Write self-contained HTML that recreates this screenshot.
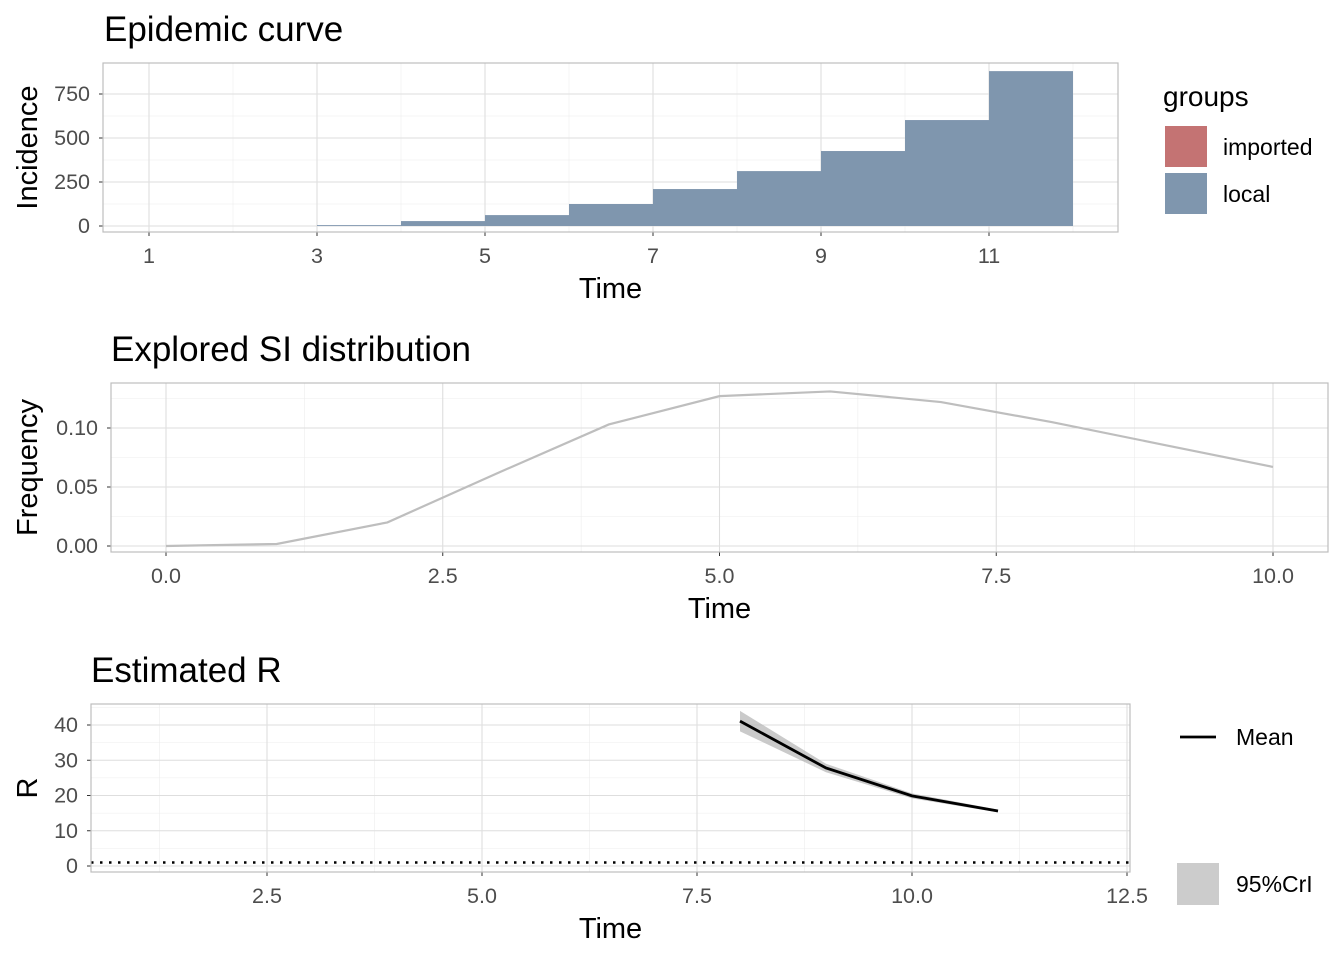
<!DOCTYPE html>
<html><head><meta charset="utf-8"><style>
html,body{margin:0;padding:0;background:#fff}
svg{display:block;font-family:"Liberation Sans",Arial,sans-serif}
</style></head><body>
<svg id="c" width="1344" height="960" viewBox="0 0 1344 960" xmlns="http://www.w3.org/2000/svg"></svg>
<script>
// ---- data ----
const incidenceTimes = [3,4,5,6,7,8,9,10,11];
const incidenceLocal = [5,28,62,125,210,312,426,602,880];
const incTickX = [1,3,5,7,9,11];
const incTickY = [0,250,500,750];
const siTimes = [0,1,2,3,4,5,6,7,8,9,10];
const siFreq = [0,0.0017,0.020,0.062,0.103,0.127,0.131,0.122,0.105,0.086,0.067];
const siTickX = [0,2.5,5,7.5,10];
const siTickY = [0,0.05,0.10];
const rTimes = [8,9,10,11];
const rMean = [41.1,27.8,19.9,15.6];
const rLow = [38.2,26.6,19.2,15.2];
const rHigh = [44.0,29.0,20.6,16.0];
const rTickX = [2.5,5,7.5,10,12.5];
const rTickY = [0,10,20,30,40];

const NS="http://www.w3.org/2000/svg";
const svg=document.getElementById('c');
function mk(tag,attrs,parent,text){const e=document.createElementNS(NS,tag);for(const k in attrs)e.setAttribute(k,attrs[k]);if(text!==undefined)e.textContent=text;(parent||svg).appendChild(e);return e;}

function panel(p){
  const g=mk('g',{});
  
  
  const sx=v=>p.x0+(v-p.xa)*p.kx, sy=v=>p.y0-(v-p.ya)*p.ky;
  p.minX.forEach(v=>{const l=mk('line',{x1:sx(v),x2:sx(v),y1:p.top,y2:p.bot,stroke:'#ededed','stroke-width':0.6},g);});
  p.minY.forEach(v=>{const l=mk('line',{x1:p.left,x2:p.right,y1:sy(v),y2:sy(v),stroke:'#ededed','stroke-width':0.6},g);});
  p.tx.forEach(v=>{const l=mk('line',{x1:sx(v),x2:sx(v),y1:p.top,y2:p.bot,stroke:'#dedede','stroke-width':1.1},g);
    mk('line',{x1:sx(v),x2:sx(v),y1:p.bot,y2:p.bot+4,stroke:'#333','stroke-width':1},g);
    const t=mk('text',{x:sx(v),y:p.bot+31,'text-anchor':'middle','font-size':21.5,fill:'#4d4d4d'},g,p.fx(v));});
  p.ty.forEach(v=>{const l=mk('line',{x1:p.left,x2:p.right,y1:sy(v),y2:sy(v),stroke:'#dedede','stroke-width':1.1},g);
    mk('line',{x1:p.left-4,x2:p.left,y1:sy(v),y2:sy(v),stroke:'#333','stroke-width':1},g);
    const t=mk('text',{x:p.left-13,y:sy(v)+7,'text-anchor':'end','font-size':21.5,fill:'#4d4d4d'},g,p.fy(v));});
  p.draw(g,sx,sy);
  const b=mk('rect',{x:p.left,y:p.top,width:p.right-p.left,height:p.bot-p.top,fill:'none',stroke:'#bdbdbd','stroke-width':1.2},g);
  
  const ti=mk('text',{x:p.titleX,y:p.top-22,'font-size':35,fill:'#000'},g,p.title);
  
  const xl=mk('text',{x:(p.left+p.right)/2,y:p.bot+66,'text-anchor':'middle','font-size':29,fill:'#000'},g,'Time');
  
  const cy=(p.top+p.bot)/2;
  const yl=mk('text',{x:37,y:cy,'text-anchor':'middle','font-size':29,fill:'#000',transform:`rotate(-90 37 ${cy})`},g,p.ylab);
  
}

panel({name:'epidemic-curve-panel',left:103,right:1118,top:63,bot:232,x0:149,xa:1,kx:84,y0:226,ya:0,ky:0.176,
  tx:incTickX,ty:incTickY,minX:[2,4,6,8,10,12],minY:[125,375,625],fx:v=>String(v),fy:v=>String(v),
  title:'Epidemic curve',titleX:104,ylab:'Incidence',
  draw:(g,sx,sy)=>{incidenceTimes.forEach((t,i)=>{const r=mk('rect',{x:sx(t),y:sy(incidenceLocal[i]),width:sx(t+1)-sx(t),height:sy(0)-sy(incidenceLocal[i]),fill:'#7f96ae'},g);
    });}});

panel({name:'si-distribution-panel',left:111,right:1328,top:383,bot:552,x0:166,xa:0,kx:110.7,y0:546,ya:0,ky:1180,
  tx:siTickX,ty:siTickY,minX:[1.25,3.75,6.25,8.75],minY:[0.025,0.075,0.125],fx:v=>v.toFixed(1),fy:v=>v.toFixed(2),
  title:'Explored SI distribution',titleX:111,ylab:'Frequency',
  draw:(g,sx,sy)=>{const pts=siTimes.map((t,i)=>sx(t)+','+sy(siFreq[i])).join(' ');
    const l=mk('polyline',{points:pts,fill:'none',stroke:'#bebebe','stroke-width':2.2},g);}});

panel({name:'estimated-r-panel',left:91,right:1130,top:704,bot:872,x0:482,xa:5,kx:86,y0:866,ya:0,ky:3.525,
  tx:rTickX,ty:rTickY,minX:[1.25,3.75,6.25,8.75,11.25],minY:[5,15,25,35,45],fx:v=>v.toFixed(1),fy:v=>String(v),
  title:'Estimated R',titleX:91,ylab:'R',
  draw:(g,sx,sy)=>{
    const up=rTimes.map((t,i)=>sx(t)+','+sy(rHigh[i]));
    const lo=rTimes.map((t,i)=>sx(t)+','+sy(rLow[i])).reverse();
    const band=mk('polygon',{points:up.concat(lo).join(' '),fill:'#b3b3b3','fill-opacity':0.7},g);
    const m=mk('polyline',{points:rTimes.map((t,i)=>sx(t)+','+sy(rMean[i])).join(' '),fill:'none',stroke:'#000','stroke-width':2.8},g);
    
    const d=mk('line',{x1:91,x2:1130,y1:sy(1),y2:sy(1),stroke:'#000','stroke-width':2.5,'stroke-dasharray':'2.5 6.5'},g);
    }});

const lg1=mk('g',{});
mk('text',{x:1163,y:106,'font-size':28,fill:'#000'},lg1,'groups');
const s1=mk('rect',{x:1165,y:126,width:42,height:41,fill:'#c47373'},lg1);
mk('text',{x:1223,y:155,'font-size':23,fill:'#000'},lg1,'imported');
const s2=mk('rect',{x:1165,y:173,width:42,height:41,fill:'#7f96ae'},lg1);
mk('text',{x:1223,y:202,'font-size':23,fill:'#000'},lg1,'local');

const lg3=mk('g',{});
const lm=mk('line',{x1:1180,x2:1216,y1:737,y2:737,stroke:'#000','stroke-width':2.8},lg3);
mk('text',{x:1236,y:745,'font-size':23,fill:'#000'},lg3,'Mean');
const lc=mk('rect',{x:1177,y:863,width:42,height:42,fill:'#cccccc'},lg3);
mk('text',{x:1236,y:892,'font-size':23,fill:'#000'},lg3,'95%CrI');
</script>
</body></html>
